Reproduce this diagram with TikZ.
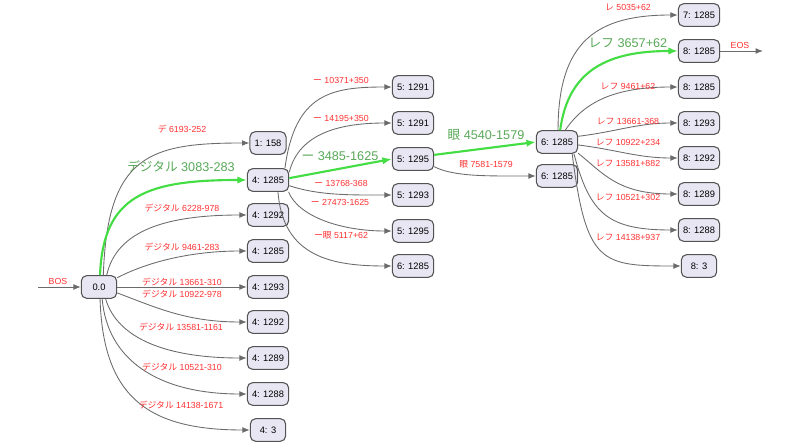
\documentclass[tikz,border=0pt]{standalone}
\usepackage{fontspec}
\setmainfont{Liberation Sans}
\newfontfamily\jpfont{Noto Sans CJK JP}
\newcommand{\jp}[1]{{\jpfont #1}}
\usetikzlibrary{arrows.meta}
\definecolor{lav}{RGB}{232,230,243}
\definecolor{hitgreen}{RGB}{68,221,68}
\definecolor{hitlabel}{RGB}{88,168,88}
\definecolor{costred}{RGB}{255,48,48}

\begin{document}
\begin{tikzpicture}[x=0.75pt, y=-0.75pt,
  state/.style={draw=black!68, fill=lav, line width=0.8pt, rounded corners=4pt,
    minimum width=26.5pt, minimum height=17pt, inner xsep=3.5pt, inner ysep=2pt,
    font=\fontsize{7}{8}\selectfont},
  arc/.style={draw=black!58, line width=0.65pt, -{Latex[length=5.5pt,width=4.3pt]}},
  best/.style={draw=hitgreen, line width=1.6pt, -{Latex[length=7pt,width=5.5pt]}},
  cost/.style={text=costred, inner sep=0pt, font=\fontsize{6.6}{7}\selectfont},
  bestcost/.style={text=hitlabel, inner sep=0pt, font=\fontsize{9.5}{11}\selectfont}]

  \useasboundingbox (0,0) rectangle (800,445);

  % Start
  \node [state] (root) at (99,287) {0.0};
  \coordinate (bos) at (38,287);
  \draw [arc] (bos) -- (root.west);
  \node [cost] (l-bos) at (58,281) {BOS};

  % Column 4
  \node [state] (dig1) at (268,143) {1: 158};
  \node [state] (dig2) at (268,180) {4: 1285};
  \node [state] (dig3) at (268,215) {4: 1292};
  \node [state] (dig4) at (268,251) {4: 1285};
  \node [state] (dig5) at (268,287) {4: 1293};
  \node [state] (dig6) at (268,322) {4: 1292};
  \node [state] (dig7) at (268,358) {4: 1289};
  \node [state] (dig8) at (268,394) {4: 1288};
  \node [state] (dig9) at (268,430) {4: 3};

  % Column 5
  \node [state] (bar1) at (413,87) {5: 1291};
  \node [state] (bar2) at (413,123) {5: 1291};
  \node [state] (bar3) at (413,159) {5: 1295};
  \node [state] (bar4) at (413,195) {5: 1293};
  \node [state] (bar5) at (413,231) {5: 1295};
  \node [state] (bar6) at (413,266) {6: 1285};

  % Column 6
  \node [state] (me1) at (557,142) {6: 1285};
  \node [state] (me2) at (557,176) {6: 1285};

  % Column 8
  \node [state] (ref1) at (699,15) {7: 1285};
  \node [state] (ref2) at (699,51) {8: 1285};
  \node [state] (ref3) at (699,87) {8: 1285};
  \node [state] (ref4) at (699,123) {8: 1293};
  \node [state] (ref5) at (699,158) {8: 1292};
  \node [state] (ref6) at (699,194) {8: 1289};
  \node [state] (ref7) at (699,230) {8: 1288};
  \node [state] (ref8) at (699,266) {8: 3};

  % End
  \coordinate (eos) at (763,51);
  \draw [arc] (ref2.east) -- (eos);
  \node [cost] (l-eos) at (740,45) {EOS};

  % Edges 0 -> 4
  \draw [arc] (root.70) .. controls +(4,-120) and +(-100,0) .. (dig1.west);
  \draw [arc] (root.57) .. controls +(10,-45) and +(-80,0) .. (dig3.west);
  \draw [arc] (root.27) .. controls +(35,-18) and +(-50,0) .. (dig4.west);
  \draw [arc] (root.east) -- (dig5.west);
  \draw [arc] (root.-18) .. controls +(40,15) and +(-60,0) .. (dig6.west);
  \draw [arc] (root.-61) .. controls +(12,40) and +(-80,0) .. (dig7.west);
  \draw [arc] (root.-75) .. controls +(5,60) and +(-90,0) .. (dig8.west);
  \draw [arc] (root.-85) .. controls +(3,100) and +(-100,0) .. (dig9.west);
  \draw [best] (root.85) .. controls +(3,-80) and +(-100,0) .. (dig2.west);
  \node [cost] (l-dig1) at (182,129) {\jp{デ} 6193-252};
  \node [bestcost] (l-dig2) at (181,166) {\jp{デジタル} 3083-283};
  \node [cost] (l-dig3) at (182,208) {\jp{デジタル} 6228-978};
  \node [cost] (l-dig4) at (182,247) {\jp{デジタル} 9461-283};
  \node [cost] (l-dig5) at (182,282) {\jp{デジタル} 13661-310};
  \node [cost] (l-dig6) at (182,294) {\jp{デジタル} 10922-978};
  \node [cost] (l-dig7) at (181,327) {\jp{デジタル} 13581-1161};
  \node [cost] (l-dig8) at (182,367) {\jp{デジタル} 10521-310};
  \node [cost] (l-dig9) at (181,405) {\jp{デジタル} 14138-1671};

  % Edges 4 -> 5
  \draw [arc] (dig2.35) .. controls +(10,-75) and +(-60,0) .. (bar1.west);
  \draw [arc] (dig2.20) .. controls +(10,-40) and +(-50,0) .. (bar2.west);
  \draw [arc] (dig2.-15) .. controls +(30,10) and +(-40,0) .. (bar4.west);
  \draw [arc] (dig2.-30) .. controls +(10,25) and +(-50,0) .. (bar5.west);
  \draw [arc] (dig2.-50) .. controls +(5,65) and +(-60,0) .. (bar6.west);
  \draw [best] (dig2.5) -- (bar3.west);
  \node [cost] (l-bar1) at (341,80) {\jp{ー} 10371+350};
  \node [cost] (l-bar2) at (341,118) {\jp{ー} 14195+350};
  \node [bestcost] (l-bar3) at (340,156) {\jp{ー} 3485-1625};
  \node [cost] (l-bar4) at (341,183) {\jp{ー} 13768-368};
  \node [cost] (l-bar5) at (340,202) {\jp{ー} 27473-1625};
  \node [cost] (l-bar6) at (341,235) {\jp{ー眼} 5117+62};

  % Edges 5 -> 6
  \draw [arc] (bar3.-20) .. controls +(20,10) and +(-50,0) .. (me2.west);
  \draw [best] (bar3.11) -- (me1.west);
  \node [bestcost] (l-me1) at (486,135) {\jp{眼} 4540-1579};
  \node [cost] (l-me2) at (486,164) {\jp{眼} 7581-1579};

  % Edges 6 -> 8
  \draw [arc] (me1.85) .. controls +(0,-90) and +(-80,0) .. (ref1.west);
  \draw [arc] (me1.55) .. controls +(20,-30) and +(-60,0) .. (ref3.west);
  \draw [arc] (me1.15) .. controls +(40,-5) and +(-40,0) .. (ref4.west);
  \draw [arc] (me1.-8) .. controls +(40,5) and +(-40,0) .. (ref5.west);
  \draw [arc] (me1.-28) .. controls +(25,20) and +(-60,0) .. (ref6.west);
  \draw [arc] (me1.-35) .. controls +(16,60) and +(-70,0) .. (ref7.west);
  \draw [arc] (me1.-38) .. controls +(14,110) and +(-80,0) .. (ref8.west);
  \draw [best] (me1.75) .. controls +(8,-60) and +(-70,0) .. (ref2.west);
  \node [cost] (l-ref1) at (628,7) {\jp{レ} 5035+62};
  \node [bestcost] (l-ref2) at (628,43) {\jp{レフ} 3657+62};
  \node [cost] (l-ref3) at (628,86) {\jp{レフ} 9461+62};
  \node [cost] (l-ref4) at (628,121) {\jp{レフ} 13661-368};
  \node [cost] (l-ref5) at (628,142) {\jp{レフ} 10922+234};
  \node [cost] (l-ref6) at (628,163) {\jp{レフ} 13581+882};
  \node [cost] (l-ref7) at (628,197) {\jp{レフ} 10521+302};
  \node [cost] (l-ref8) at (628,237) {\jp{レフ} 14138+937};
\end{tikzpicture}
\end{document}
